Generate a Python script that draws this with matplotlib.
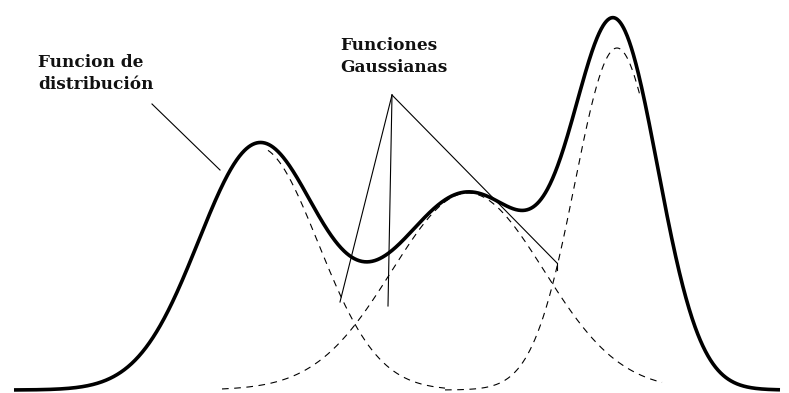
import numpy as np
import matplotlib.pyplot as plt

# three gaussian components (centre, height, width)
centres = [258, 468, 617]
heights = [243, 197, 342]
widths = [60, 76, 42]

# x range over which each dashed component is drawn
dash_start = [268, 222, 445]
dash_end = [445, 662, 640]

labels = ["Funcion de\ndistribución", "Funciones\nGaussianas"]


def gauss(x, c, h, w):
    return h * np.exp(-(x - c) ** 2 / (2 * w ** 2))


fig = plt.figure(figsize=(7.89, 3.93), dpi=100)
ax = fig.add_axes([0, 0, 1, 1])
ax.set_xlim(0, 789)
ax.set_ylim(-3, 390)
ax.axis("off")

x = np.linspace(14, 780, 1500)
total = sum(gauss(x, c, h, w) for c, h, w in zip(centres, heights, widths))
ax.plot(x, total, color="black", lw=2.6, solid_capstyle="butt", zorder=3)

for c, h, w, a, b in zip(centres, heights, widths, dash_start, dash_end):
    xs = np.linspace(a, b, 400)
    ax.plot(xs, gauss(xs, c, h, w), color="black", lw=0.8,
            dashes=(6, 5), zorder=2)

# pointer lines (pixel coords converted to height = 390 - y)
def px(x0, y0):
    return x0, 390 - y0

thin = dict(color="black", lw=0.8, zorder=4)
ax.plot(*zip(px(152, 104), px(220, 170)), **thin)
apex = px(392, 95)
for end in [px(340, 302), px(388, 306), px(557, 263)]:
    ax.plot(*zip(apex, end), **thin)
ax.plot(*zip(px(557, 263), px(557, 270)), **thin)

font = dict(family="DejaVu Serif", fontweight="bold", fontsize=12.2,
            color="#111111", linespacing=1.4, va="top", ha="left")
ax.text(*px(38, 54), labels[0], **font)
ax.text(*px(340, 37), labels[1], **font)

fig.savefig("out.png", dpi=100)
